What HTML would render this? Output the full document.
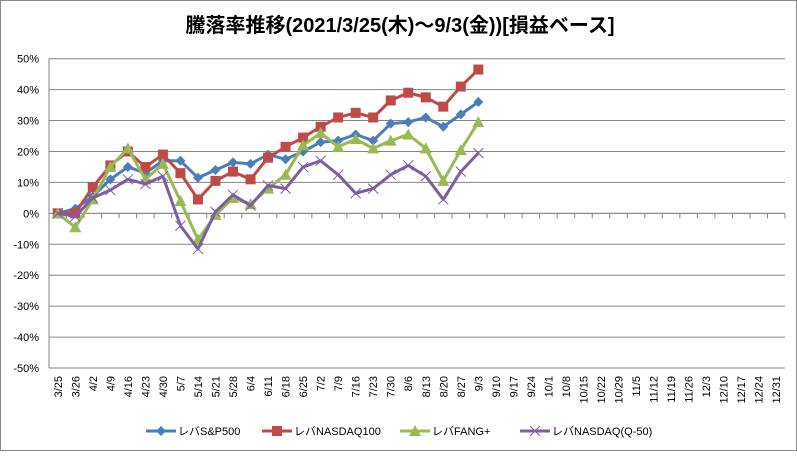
<!DOCTYPE html>
<html><head><meta charset="utf-8"><style>
body{margin:0;background:#fff;}
svg text{font-family:"Liberation Sans","Noto Sans CJK JP",sans-serif;}
</style></head><body>
<svg id="c" width="797" height="451" xmlns="http://www.w3.org/2000/svg">
<rect x="0.5" y="0.5" width="796" height="450" fill="#fff" stroke="#888"/>
<text x="400" y="32" text-anchor="middle" font-size="20" font-weight="bold">騰落率推移(2021/3/25(木)～9/3(金))[損益ベース]</text>
<g id="grid"></g><g id="axes"></g><g id="series"></g><g id="legend"></g>
</svg>
<script>
const categories=["3/25","3/26","4/2","4/9","4/16","4/23","4/30","5/7","5/14","5/21","5/28","6/4","6/11","6/18","6/25","7/2","7/9","7/16","7/23","7/30","8/6","8/13","8/20","8/27","9/3","9/10","9/17","9/24","10/1","10/8","10/15","10/22","10/29","11/5","11/12","11/19","11/26","12/3","12/10","12/17","12/24","12/31"];
const spx=[0,1.5,5.5,11,15,13,17,17,11.5,14,16.5,16,19,17.5,20,23,23.5,25.5,23.5,29,29.5,31,28,32,36];
const ndx=[0,0,8.5,15.5,20,15,19,13,4.5,10.5,13.5,11,18,21.5,24.5,28,31,32.5,31,36.5,39,37.5,34.5,41,46.5];
const fang=[0,-4.5,4.5,15,21,11,16,4,-8.5,-0.5,5,3,8,12.5,22,26,21.5,24,21,23.5,25.5,21,10.5,20.5,29.5];
const q50=[0,-1,5,7.5,11,9.5,12,-4,-11.5,0.5,6,2.5,9,8,15,17,12.5,6.5,8,12.5,15.5,12,4.5,13.5,19.5];
const yTicks=[50,40,30,20,10,0,-10,-20,-30,-40,-50];
const seriesNames=["レバS&P500","レバNASDAQ100","レバFANG+","レバNASDAQ(Q-50)"];
const NS="http://www.w3.org/2000/svg";
const L=49,R=785,T=58.7,B=368;
const bw=(R-L)/categories.length;
const x=i=>L+bw*(i+0.5);
const y=v=>T+(50-v)/100*(B-T);
function mk(t,a,p){const e=document.createElementNS(NS,t);for(const k in a)e.setAttribute(k,a[k]);p.appendChild(e);return e;}
const grid=document.getElementById('grid'),axes=document.getElementById('axes'),ser=document.getElementById('series'),leg=document.getElementById('legend');
yTicks.forEach(v=>{
 const g=mk('line',{x1:L,x2:R,y1:y(v),y2:y(v),stroke:'#868686','stroke-width':1},grid);
 
 
 const t=mk('text',{x:L-10,y:y(v)+4,'text-anchor':'end','font-size':11},axes);
 t.textContent=v+'%';
 
 
});
const ya=mk('line',{x1:L,x2:L,y1:T,y2:B,stroke:'#868686'},axes);


const xa=mk('line',{x1:L,x2:R,y1:y(0),y2:y(0),stroke:'#868686'},axes);


for(let i=0;i<=categories.length;i++){const tk=mk('line',{x1:L+bw*i,x2:L+bw*i,y1:y(0),y2:y(0)+5,stroke:'#868686'},axes);
 
 }
categories.forEach((c,i)=>{
 const t=mk('text',{x:0,y:0,'text-anchor':'end','font-size':11,transform:`translate(${x(i)+4},${B+8}) rotate(-90)`},axes);
 t.textContent=c;
 
 
});
const colors=["#4a7ebb","#be4b48","#98b954","#7d5fa0"];
const datas=[spx,ndx,fang,q50];
function marker(k,cx,cy,p){
 let e;
 if(k==0)e=mk('polygon',{points:`${cx},${cy-5} ${cx+5},${cy} ${cx},${cy+5} ${cx-5},${cy}`,fill:colors[0]},p);
 else if(k==1)e=mk('rect',{x:cx-5,y:cy-5,width:10,height:10,fill:colors[1]},p);
 else if(k==2)e=mk('polygon',{points:`${cx},${cy-6} ${cx+6},${cy+5} ${cx-6},${cy+5}`,fill:colors[2]},p);
 else e=mk('path',{d:`M${cx-5} ${cy-5}L${cx+5} ${cy+5}M${cx-5} ${cy+5}L${cx+5} ${cy-5}`,stroke:colors[3],'stroke-width':1},p);
 return e;
}
datas.forEach((d,k)=>{
 const g=mk('g',{},ser);
 
 
 const pl=mk('polyline',{points:d.map((v,i)=>x(i)+','+y(v)).join(' '),fill:'none',stroke:colors[k],'stroke-width':3,'stroke-linejoin':'round'},g);
 
 
 d.forEach((v,i)=>{const m=marker(k,x(i),y(v),g);
  
  });
});
const lx=[146,262,400,520];
seriesNames.forEach((n,k)=>{
 const g=mk('g',{},leg);
 
 
 mk('line',{x1:lx[k],x2:lx[k]+30,y1:431,y2:431,stroke:colors[k],'stroke-width':3},g);
 marker(k,lx[k]+15,431,g);
 const t=mk('text',{x:lx[k]+32,y:435,'font-size':11},g);
 t.textContent=n;
});
</script>
</body></html>
